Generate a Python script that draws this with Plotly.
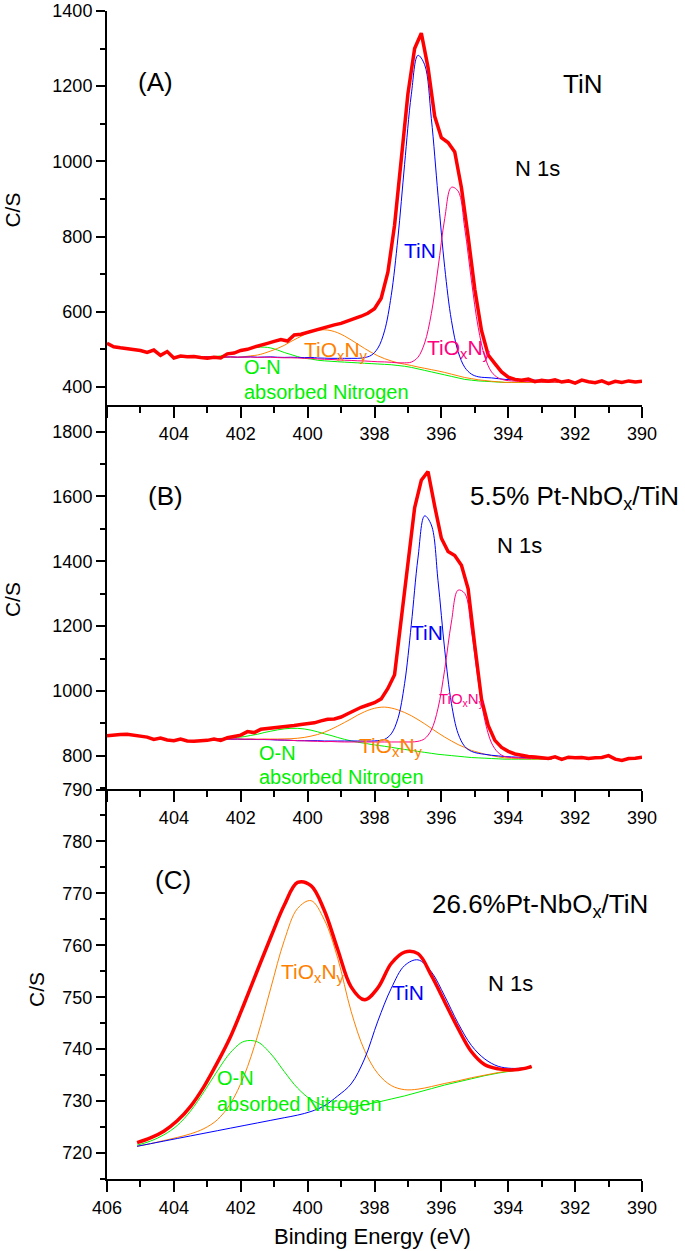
import plotly.graph_objects as go
from plotly.subplots import make_subplots

FONT = "Liberation Sans, Arial, sans-serif"
RED = "#ff0000"
BLUE = "#0000ff"
ORANGE = "#ff8000"
PINK = "#ff0080"
GREEN = "#00f000"

# ---------------- panel A : TiN ----------------
# measured envelope (C/S) on 0.2 eV steps
energy_a = [
    406.0, 405.8, 405.6, 405.4, 405.2, 405.0, 404.8, 404.6, 404.4, 404.2,
    404.0, 403.8, 403.6, 403.4, 403.2, 403.0, 402.8, 402.6, 402.4, 402.2,
    402.0, 401.8, 401.6, 401.4, 401.2, 401.0, 400.8, 400.6, 400.4, 400.2,
    400.0, 399.8, 399.6, 399.4, 399.2, 399.0, 398.8, 398.6, 398.4, 398.2,
    398.0, 397.8, 397.6, 397.4, 397.2, 397.0, 396.8, 396.6, 396.4, 396.2,
    396.0, 395.8, 395.6, 395.4, 395.2, 395.0, 394.8, 394.6, 394.4, 394.2,
    394.0, 393.8, 393.6, 393.4, 393.2, 393.0, 392.8, 392.6, 392.4, 392.2,
    392.0, 391.8, 391.6, 391.4, 391.2, 391.0, 390.8, 390.6, 390.4, 390.2,
    390.0]
counts_a = [
    516, 507, 504, 502, 500, 497, 492, 498, 484, 494,
    477, 482, 480, 481, 478, 476, 479, 477, 488, 490,
    497, 500, 506, 510, 516, 521, 526, 522, 538, 540,
    545, 550, 556, 562, 565, 569, 575, 580, 588, 596,
    608, 636, 705, 830, 1005, 1180, 1300, 1341, 1250, 1120,
    1063, 1050, 1025, 930, 800, 660, 550, 485, 462, 440,
    426, 420, 418, 421, 414, 418, 415, 419, 413, 416,
    410, 418, 414, 411, 416, 409, 415, 412, 416, 413,
    415]

# fitted components (background + height of each peak above it)
fit_energy_a = [
    403.1, 402.9, 402.7, 402.5, 402.3, 402.1, 401.9, 401.7, 401.5, 401.3,
    401.1, 400.9, 400.7, 400.5, 400.3, 400.1, 399.9, 399.7, 399.5, 399.3,
    399.1, 398.9, 398.7, 398.5, 398.3, 398.1, 397.9, 397.7, 397.5, 397.3,
    397.1, 396.9, 396.7, 396.5, 396.3, 396.1, 395.9, 395.7, 395.5, 395.3,
    395.1, 394.9, 394.7, 394.5, 394.3, 394.1, 393.9, 393.7, 393.5, 393.3,
    393.1, 392.9, 392.7, 392.5]
background_a = [
    479, 479, 478, 478, 478, 477, 477, 477, 476, 476,
    476, 475, 474, 474, 473, 472, 472, 470, 469, 468,
    467, 466, 465, 464, 463, 462, 461, 460, 459, 457,
    455, 452, 448, 444, 440, 436, 432, 428, 424, 420,
    418, 416, 415, 414, 413, 412, 412, 412, 412, 412,
    412, 412, 412, 412]
on_peak_a = [
    0.7, 1.7, 3.4, 6.1, 10.2, 15.4, 21.0, 26.0, 29.3, 29.9,
    27.6, 23.2, 17.6, 12.2, 7.6, 4.3, 2.2, 1.0, 0.4, 0.2,
    0, 0, 0, 0, 0, 0, 0, 0, 0, 0,
    0, 0, 0, 0, 0, 0, 0, 0, 0, 0,
    0, 0, 0, 0, 0, 0, 0, 0, 0, 0,
    0, 0, 0, 0]
tioxny_peak_a = [
    0.1, 0.1, 0.3, 0.6, 1.1, 1.9, 3.4, 5.6, 8.8, 13.5,
    19.6, 27.4, 36.5, 46.7, 57.1, 66.9, 75.1, 80.6, 83.0, 81.7,
    77.1, 69.6, 60.2, 49.8, 39.5, 30.0, 21.8, 15.2, 10.1, 7.0,
    5.5, 5.0, 5.0, 5.5, 6.0, 6.5, 6.5, 6.0, 5.5, 5.0,
    4.0, 3.0, 2.0, 1.0, 0.5, 0, 0, 0, 0, 0,
    0, 0, 0, 0]
tin_peak_a = [
    1, 1, 1.5, 1.5, 2, 2, 2.5, 3, 3, 3.5,
    4, 4, 4.5, 5, 5.5, 6, 6.5, 7, 7.5, 8,
    9, 10, 11, 12, 15, 22, 42, 89, 184, 339,
    537, 725, 834, 813, 674, 474, 286, 149, 70, 32,
    16, 11, 10, 10, 9, 8, 7, 7, 6, 6,
    6, 6, 6, 6]
tioxny2_peak_a = [
    1, 1, 1.5, 1.5, 2, 2, 2, 2.5, 2.5, 3,
    3, 3, 3.5, 3.5, 4, 4, 4, 4.5, 4.5, 5,
    5, 5, 5.5, 5.5, 6, 6, 6, 6.5, 6.5, 7,
    9, 14, 31, 73, 155, 280, 416, 503, 497, 401,
    264, 143, 65, 26, 11, 6, 4, 3, 2, 2,
    1, 1, 1, 1]

# ---------------- panel B : 5.5% Pt-NbOx/TiN ----------------
energy_b = energy_a
counts_b = [
    862, 865, 866, 867, 864, 862, 858, 851, 855, 849,
    847, 852, 846, 845, 846, 848, 852, 848, 856, 860,
    864, 875, 872, 882, 884, 887, 889, 892, 894, 897,
    899, 902, 908, 913, 914, 920, 930, 940, 950, 957,
    964, 976, 1008, 1050, 1225, 1410, 1565, 1650, 1677, 1570,
    1471, 1430, 1418, 1388, 1315, 1140, 975, 894, 848, 826,
    814, 806, 801, 798, 797, 795, 792, 797, 789, 796,
    794, 795, 792, 794, 795, 801, 790, 786, 792, 793,
    796]

fit_energy_b = [
    402.9, 402.7, 402.5, 402.3, 402.1, 401.9, 401.7, 401.5, 401.3, 401.1,
    400.9, 400.7, 400.5, 400.3, 400.1, 399.9, 399.7, 399.5, 399.3, 399.1,
    398.9, 398.7, 398.5, 398.3, 398.1, 397.9, 397.7, 397.5, 397.3, 397.1,
    396.9, 396.7, 396.5, 396.3, 396.1, 395.9, 395.7, 395.5, 395.3, 395.1,
    394.9, 394.7, 394.5, 394.3, 394.1, 393.9, 393.7, 393.5, 393.3, 393.1,
    392.9, 392.7]
background_b = [
    853, 852, 852, 851, 851, 850, 850, 849, 849, 848,
    847, 846, 845, 844, 843, 842, 841, 840, 840, 839,
    838, 837, 836, 835, 833, 831, 829, 826, 823, 820,
    817, 814, 811, 808, 805, 803, 801, 799, 797, 795,
    794, 793, 792, 791, 790, 790, 790, 790, 790, 790,
    790, 790]
on_peak_b = [
    0.8, 1.5, 2.5, 4.1, 6.3, 9.3, 13.2, 17.8, 23.0, 28.3,
    33.3, 37.4, 40.1, 41.0, 40.1, 37.4, 33.3, 28.3, 23.0, 17.8,
    13.2, 9.3, 6.3, 4.1, 2.5, 1.5, 0.8, 0.4, 0.2, 0,
    0, 0, 0, 0, 0, 0, 0, 0, 0, 0,
    0, 0, 0, 0, 0, 0, 0, 0, 0, 0,
    0, 0]
tioxny_peak_b = [
    0.5, 0.5, 1, 1, 1, 1.5, 2, 2.5, 3, 4,
    5, 6.5, 8, 10.5, 14, 19, 25, 33, 42, 53,
    65, 77, 90, 101, 111, 118, 121.5, 121.7, 119, 114,
    107, 98, 88, 77, 66, 55, 45, 36, 29, 22,
    17, 12, 9, 6, 4, 3, 2, 1.2, 0.8, 0.5,
    0.3, 0.2]
tin_peak_b = [
    0.5, 0.5, 0.5, 0.5, 1, 1, 1, 1.5, 1.5, 2,
    2, 2.5, 3, 3, 4, 5, 6, 6, 6, 7,
    8, 9, 10, 11, 13, 16, 22, 42, 92, 203,
    387, 596, 729, 704, 535, 324, 161, 70, 32, 19,
    14, 12, 10, 9, 8, 7, 6, 5, 5, 4,
    4, 4]
tioxny2_peak_b = [
    0.5, 0.5, 1, 1, 1, 1.5, 1.5, 2, 2, 2.5,
    2.5, 3, 3, 3, 3.5, 3.5, 4, 4, 4.5, 4.5,
    5, 6, 7, 8, 10, 12, 14, 17, 20, 23,
    26, 31, 42, 72, 142, 264, 412, 512, 504, 390,
    238, 117, 48, 19, 8, 5, 4, 3, 2, 2,
    1, 1]

# ---------------- panel C : 26.6%Pt-NbOx/TiN ----------------
energy_c = [
    405.1, 404.7, 404.3, 403.9, 403.5, 403.1, 402.7, 402.3, 401.9, 401.5,
    401.1, 400.7, 400.3, 399.9, 399.5, 399.1, 398.7, 398.3, 397.9, 397.5,
    397.1, 396.7, 396.3, 395.9, 395.5, 395.1, 394.7, 394.3, 393.9, 393.5,
    393.3]
counts_c = [
    722.0, 722.9, 724.2, 726.2, 729.0, 732.8, 737.4, 742.5, 748.7, 755.2,
    761.6, 767.7, 772.1, 771.5, 766.7, 759.2, 752.0, 749.5, 751.8, 756.5,
    758.7, 758.4, 754.2, 749.1, 744.0, 739.5, 737.0, 736.2, 736.0, 736.3,
    736.7]
background_c = [
    721.3, 721.8, 722.3, 722.8, 723.3, 723.8, 724.3, 724.8, 725.3, 725.8,
    726.3, 726.8, 727.2, 727.6, 728.0, 728.4, 728.8, 729.3, 729.8, 730.4,
    731.0, 731.7, 732.4, 733.1, 733.7, 734.3, 734.9, 735.4, 735.8, 736.2,
    736.4]
on_peak_c = [
    0.2, 0.5, 1.2, 2.5, 4.8, 8.0, 11.5, 14.6, 16.2, 15.6,
    12.8, 8.9, 5.3, 2.7, 1.1, 0.4, 0.1, 0, 0, 0,
    0, 0, 0, 0, 0, 0, 0, 0, 0, 0,
    0]
tioxny_peak_c = [
    0, 0, 0.1, 0.2, 0.4, 0.9, 2.1, 4.8, 9.6, 16.7,
    25.5, 34.1, 39.9, 41.0, 36.9, 29.1, 18.5, 10.5, 5.5, 2.6,
    1.2, 0.6, 0.4, 0.3, 0.2, 0.2, 0.1, 0.1, 0.1, 0.1,
    0.1]
tin_peak_c = [
    0, 0, 0, 0, 0, 0, 0, 0, 0, 0,
    0, 0, 0.1, 0.4, 1.1, 2.6, 4.5, 8.8, 15.6, 21.3,
    25.1, 25.5, 22.5, 17.1, 11.3, 6.4, 3.2, 1.3, 0.5, 0.2,
    0.1]

x_ticks = [406, 404, 402, 400, 398, 396, 394, 392, 390]


def with_bg(bg, peak):
    return [b + p for b, p in zip(bg, peak)]


fig = make_subplots(rows=3, cols=1)

# fitted components, then the envelope on top
fits = [
    (1, fit_energy_a, background_a,
     [(on_peak_a, GREEN), (tioxny_peak_a, ORANGE), (tin_peak_a, BLUE), (tioxny2_peak_a, PINK)]),
    (2, fit_energy_b, background_b,
     [(on_peak_b, GREEN), (tioxny_peak_b, ORANGE), (tin_peak_b, BLUE), (tioxny2_peak_b, PINK)]),
    (3, energy_c, background_c,
     [(on_peak_c, GREEN), (tioxny_peak_c, ORANGE), (tin_peak_c, BLUE)]),
]
for row, xs, bg, comps in fits:
    for peak, color in comps:
        fig.add_trace(go.Scatter(x=xs, y=with_bg(bg, peak), mode="lines",
                                 line=dict(color=color, width=1, shape="spline"),
                                 showlegend=False, hoverinfo="skip"),
                      row=row, col=1)

fig.add_trace(go.Scatter(x=energy_a, y=counts_a, mode="lines",
                         line=dict(color=RED, width=3.5), showlegend=False),
              row=1, col=1)
fig.add_trace(go.Scatter(x=energy_b, y=counts_b, mode="lines",
                         line=dict(color=RED, width=3.5), showlegend=False),
              row=2, col=1)
fig.add_trace(go.Scatter(x=energy_c, y=counts_c, mode="lines",
                         line=dict(color=RED, width=3.5, shape="spline"),
                         showlegend=False),
              row=3, col=1)

# axes
y_setup = [
    (1, [352, 1400], 400, 200, 100),
    (2, [698, 1882], 800, 200, 100),
    (3, [715, 790.1], 720, 10, 5),
]
for row, rng, t0, dt, mdt in y_setup:
    fig.update_yaxes(range=rng, autorange=False, tickmode="linear", tick0=t0, dtick=dt,
                     ticks="outside", ticklen=9, tickwidth=2, tickcolor="black",
                     minor=dict(ticks="outside", ticklen=5, tickwidth=1.5,
                                tickcolor="black", tickmode="linear",
                                tick0=t0, dtick=mdt, showgrid=False),
                     showline=True, linewidth=2, linecolor="black",
                     showgrid=False, zeroline=False, automargin=False,
                     tickfont=dict(family=FONT, size=18, color="black"),
                     row=row, col=1)

for row in (1, 2, 3):
    labels = [str(v) for v in x_ticks]
    if row != 3:
        labels[0] = ""
    fig.update_xaxes(range=[406, 390], autorange=False, tickmode="array", tickvals=x_ticks,
                     ticktext=labels, ticks="outside", ticklen=11, tickwidth=2,
                     tickcolor="black",
                     minor=dict(ticks="outside", ticklen=6, tickwidth=1.5,
                                tickcolor="black", tickmode="linear",
                                tick0=390, dtick=1, showgrid=False),
                     showline=True, linewidth=2, linecolor="black",
                     showgrid=False, zeroline=False, automargin=False,
                     tickfont=dict(family=FONT, size=18, color="black"),
                     row=row, col=1)

fig.update_layout(
    yaxis=dict(domain=[0.6627, 1.0]),
    yaxis2=dict(domain=[0.3339, 0.6627]),
    yaxis3=dict(domain=[0.0, 0.3339]),
)

# text labels
notes = [
    # panel A
    ("x", "y", 404.56, 1211, "(A)", "black", 26, "center"),
    ("x", "y", 391.79, 1206, "TiN", "black", 26, "center"),
    ("x", "y", 393.12, 982, "N 1s", "black", 22, "center"),
    ("x", "y", 396.63, 764, "TiN", BLUE, 21, "center"),
    ("x", "y", 400.16, 496, "TiO<sub>x</sub>N<sub>y</sub>", ORANGE, 21, "left"),
    ("x", "y", 396.49, 502, "TiO<sub>x</sub>N<sub>y</sub>", PINK, 21, "left"),
    ("x", "y", 401.95, 453, "O-N", GREEN, 20, "left"),
    ("x", "y", 401.95, 387, "absorbed Nitrogen", GREEN, 20, "left"),
    # panel B
    ("x2", "y2", 404.26, 1600, "(B)", "black", 26, "center"),
    ("x2", "y2", 395.19, 1598, "5.5% Pt-NbO<sub>x</sub>/TiN", "black", 26, "left"),
    ("x2", "y2", 393.67, 1448, "N 1s", "black", 22, "center"),
    ("x2", "y2", 396.44, 1181, "TiN", BLUE, 21, "center"),
    ("x2", "y2", 396.13, 975, "TiO<sub>x</sub>N<sub>y</sub>", PINK, 15, "left"),
    ("x2", "y2", 398.52, 828, "TiO<sub>x</sub>N<sub>y</sub>", ORANGE, 21, "left"),
    ("x2", "y2", 401.51, 808, "O-N", GREEN, 20, "left"),
    ("x2", "y2", 401.51, 734, "absorbed Nitrogen", GREEN, 20, "left"),
    # panel C
    ("x3", "y3", 404.02, 772.6, "(C)", "black", 26, "center"),
    ("x3", "y3", 396.33, 767.6, "26.6%Pt-NbO<sub>x</sub>/TiN", "black", 26, "left"),
    ("x3", "y3", 393.92, 752.6, "N 1s", "black", 22, "center"),
    ("x3", "y3", 397.0, 750.9, "TiN", BLUE, 21, "center"),
    ("x3", "y3", 400.87, 754.6, "TiO<sub>x</sub>N<sub>y</sub>", ORANGE, 21, "left"),
    ("x3", "y3", 402.76, 734.5, "O-N", GREEN, 20, "left"),
    ("x3", "y3", 402.76, 729.5, "absorbed Nitrogen", GREEN, 20, "left"),
]
annotations = []
for xr, yr, x, y, text, color, size, anchor in notes:
    annotations.append(dict(xref=xr, yref=yr, x=x, y=y, text=text,
                            showarrow=False, xanchor=anchor, yanchor="middle",
                            font=dict(family=FONT, size=size, color=color)))

# axis titles
for x, y in [(-0.1766, 0.8296), (-0.1766, 0.4961), (-0.1327, 0.1618)]:
    annotations.append(dict(xref="paper", yref="paper", x=x, y=y, text="C/S",
                            textangle=-90, showarrow=False,
                            xanchor="center", yanchor="middle",
                            font=dict(family=FONT, size=21, color="black")))
annotations.append(dict(xref="paper", yref="paper", x=0.4963, y=-0.0494,
                        text="Binding Energy (eV)", showarrow=False,
                        xanchor="center", yanchor="middle",
                        font=dict(family=FONT, size=22, color="black")))

fig.update_layout(
    width=685, height=1251,
    margin=dict(l=107, r=43, t=11, b=72, autoexpand=False),
    plot_bgcolor="white", paper_bgcolor="white",
    annotations=annotations,
    font=dict(family=FONT, color="black"),
)

# page body has a default 8px margin; remove it so the figure sits at 0,0
fig.write_html("out.html",
               config={"displayModeBar": False},
               post_script="document.body.style.margin='0';"
                           "document.body.style.overflow='hidden';")
